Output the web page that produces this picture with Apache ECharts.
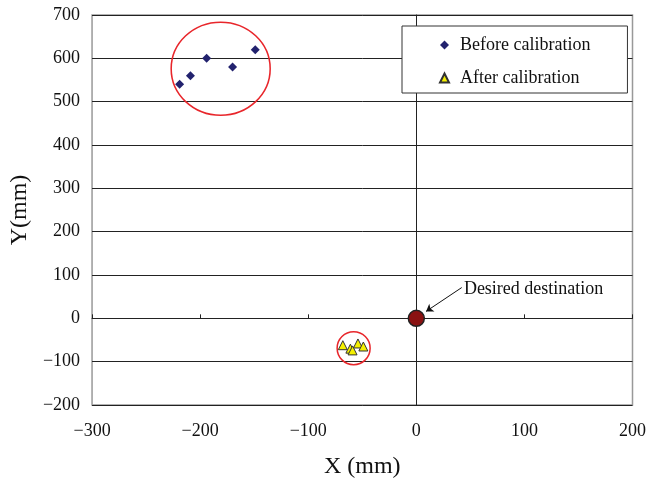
<!DOCTYPE html>
<html>
<head>
<meta charset="utf-8">
<script src="https://cdn.jsdelivr.net/npm/echarts@6/dist/echarts.min.js"></script>
<style>
  html, body { margin: 0; padding: 0; background: #fff; }
  #chart { width: 649px; height: 484px; }
</style>
</head>
<body>
<div id="chart"></div>
<script>
// points (mm)
var beforePoints = [[-219, 540], [-209, 560], [-194, 600], [-170, 580], [-149, 620]]
var afterPoints = [[-68, -62], [-61, -70], [-59, -74], [-54, -58], [-49, -65]]
var destination = [[0, 0]]
// red rings drawn round each group: centre points
var ringCenters = [[-181, 576]]
var smallRingCenters = [[-58, -69]]
var xTicks = { min: -300, max: 200, step: 100 }
var yTicks = { min: -200, max: 700, step: 100 }

var serif = 'Liberation Serif'

function minus (v) {
  return String(v).replace('-', '\u2212')
}

var chart = echarts.init(document.getElementById('chart'))

var option = {
  animation: false,
  grid: {
    left: 91.5,
    right: 15.5,
    top: 15,
    bottom: 77.5,
    show: true,
    borderColor: '#999',
    borderWidth: 1.5
  },
  legend: {
    orient: 'vertical',
    left: 402,
    top: 26,
    padding: [10, 37, 6, 37],
    itemGap: 15,
    itemWidth: 9,
    itemHeight: 9,
    borderColor: '#333',
    borderWidth: 1,
    borderRadius: 0,
    backgroundColor: '#fff',
    textStyle: { fontFamily: serif, fontSize: 18, color: '#111', padding: [0, 0, 0, 6] },
    data: ['Before calibration', 'After calibration']
  },
  xAxis: [
    {
      type: 'value',
      min: xTicks.min,
      max: xTicks.max,
      interval: xTicks.step,
      name: 'X (mm)',
      nameLocation: 'middle',
      nameGap: 50,
      nameTextStyle: { fontFamily: serif, fontSize: 24, color: '#111' },
      axisLine: { show: false, onZero: false },
      axisTick: { show: false },
      splitLine: { show: false },
      axisLabel: { fontFamily: serif, fontSize: 18, color: '#111', margin: 17, formatter: minus }
    },
    {
      type: 'value',
      min: xTicks.min,
      max: xTicks.max,
      interval: xTicks.step,
      position: 'bottom',
      axisLine: { show: true, onZero: true, lineStyle: { color: '#222', width: 1 } },
      axisTick: { show: true, inside: true, length: 4, lineStyle: { color: '#222' } },
      axisLabel: { show: false },
      splitLine: { show: false }
    }
  ],
  yAxis: [
    {
      type: 'value',
      min: yTicks.min,
      max: yTicks.max,
      interval: yTicks.step,
      name: 'Y(mm)',
      nameLocation: 'middle',
      nameGap: 58,
      nameTextStyle: { fontFamily: serif, fontSize: 24, color: '#111' },
      axisLine: { show: false, onZero: false },
      axisTick: { show: false },
      splitLine: { show: true, lineStyle: { color: '#222', width: 1 } },
      axisLabel: { fontFamily: serif, fontSize: 18, color: '#111', margin: 12, formatter: minus }
    },
    {
      type: 'value',
      min: yTicks.min,
      max: yTicks.max,
      interval: yTicks.step,
      position: 'left',
      axisLine: { show: true, onZero: true, onZeroAxisIndex: 0, lineStyle: { color: '#222', width: 1 } },
      axisTick: { show: true, inside: true, length: 4, lineStyle: { color: '#222' } },
      axisLabel: { show: false },
      splitLine: { show: false }
    }
  ],
  series: [
    {
      name: 'ring',
      type: 'scatter',
      silent: true,
      symbol: 'circle',
      symbolSize: [99, 93],
      itemStyle: { color: 'rgba(0,0,0,0)', borderColor: '#e8262b', borderWidth: 1.5, opacity: 1 },
      data: ringCenters,
      z: 1
    },
    {
      name: 'smallRing',
      type: 'scatter',
      silent: true,
      symbol: 'circle',
      symbolSize: 33,
      itemStyle: { color: 'rgba(0,0,0,0)', borderColor: '#e8262b', borderWidth: 1.5, opacity: 1 },
      data: smallRingCenters,
      z: 1
    },
    {
      name: 'Before calibration',
      type: 'scatter',
      symbol: 'diamond',
      symbolSize: 9,
      itemStyle: { color: '#22226e', opacity: 1 },
      data: beforePoints,
      z: 3
    },
    {
      name: 'After calibration',
      type: 'scatter',
      symbol: 'triangle',
      symbolSize: 9,
      itemStyle: { color: '#f4f000', borderColor: '#333', borderWidth: 1, opacity: 1 },
      data: afterPoints,
      z: 3
    },
    {
      name: 'Desired destination',
      type: 'scatter',
      symbol: 'circle',
      symbolSize: 16,
      itemStyle: { color: '#8a1212', borderColor: '#222', borderWidth: 1.5, opacity: 1 },
      data: destination,
      z: 4,
      markLine: {
        silent: true,
        symbol: ['none', 'arrow'],
        symbolSize: 7,
        lineStyle: { color: '#111', width: 1, type: 'solid' },
        label: { show: false },
        data: [[{ coord: [42, 71] }, { coord: [9, 16] }]]
      },
      markPoint: {
        silent: true,
        symbol: 'circle',
        symbolSize: 0,
        label: {
          show: true,
          position: 'right',
          distance: 0,
          formatter: 'Desired destination',
          fontFamily: serif,
          fontSize: 18,
          color: '#111'
        },
        data: [{ coord: [44, 67] }]
      }
    }
  ]
}

chart.setOption(option)
</script>
</body>
</html>
